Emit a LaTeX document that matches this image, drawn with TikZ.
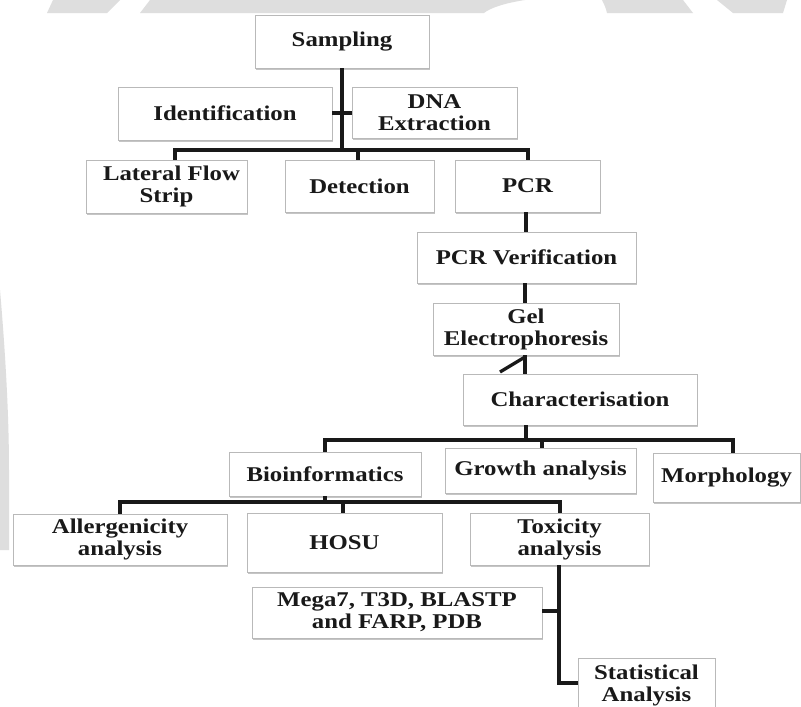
\documentclass[tikz,border=0pt]{standalone}
\usepackage{fontspec}
\setmainfont{Liberation Serif}[FakeStretch=1.18]
\usetikzlibrary{shadows}
\tikzset{
  box/.style={draw=gray!55, line width=0.8pt, fill=white, inner sep=0pt,
    align=center, text=black!90, font=\fontsize{21}{22}\selectfont\bfseries,
    drop shadow={shadow xshift=0.8pt, shadow yshift=-1.6pt, opacity=0.45, fill=gray}},
  link/.style={line width=3.3pt, black!90},
  wm/.style={fill=gray!26, draw=none}
}
\newcommand{\bx}[5]{\node[box, minimum width=#3pt, minimum height=#4pt] (#1) at (#2) {#5};}
\begin{document}
\begin{tikzpicture}[x=1pt,y=-1pt]
\useasboundingbox (0,0) rectangle (801,707);
\fill[white] (0,0) rectangle (801,707);
% watermark band
\fill[wm] (53,0) -- (120,0) -- (107,13) -- (47,13) -- cycle;
\fill[wm] (150,0) -- (525,0) .. controls (505,3) and (490,8) .. (484,13) -- (140,13) -- cycle;
\fill[wm] (602,0) -- (683,0) -- (693,13) -- (607,13) .. controls (606,8) and (604,4) .. cycle;
\fill[wm] (717,0) -- (787,0) -- (783,13) -- (733,13) -- cycle;
\fill[wm] (0,290) .. controls (6,360) and (9,420) .. (9,470) -- (9,550) -- (0,550) -- cycle;
% boxes
\bx{samp}{342,41.5}{174}{53}{Sampling}
\bx{ident}{225,113.5}{214}{53}{Identification}
\bx{dna}{434.5,112.5}{165}{51}{DNA\\Extraction}
\bx{lfs}{166.5,186.5}{161}{53}{\hspace*{10pt}Lateral Flow\\Strip}
\bx{det}{359.5,186}{149}{52}{Detection}
\bx{pcr}{527.5,186}{145}{52}{PCR}
\bx{pcrv}{526.5,257.5}{219}{51}{PCR Verification}
\bx{gel}{526,329}{186}{52}{Gel\\Electrophoresis}
\bx{char}{580,399.5}{234}{51}{Characterisation}
\bx{bio}{325,474}{192}{44}{Bioinformatics}
\bx{grow}{540.5,470.5}{191}{45}{Growth analysis}
\bx{morph}{726.5,477.5}{147}{49}{Morphology}
\bx{allerg}{120,539.5}{214}{51}{Allergenicity\\analysis}
\bx{hosu}{344.5,542.5}{195}{59}{HOSU}
\bx{tox}{559.5,539}{179}{52}{Toxicity\\analysis}
\bx{mega}{397,612.5}{290}{51}{Mega7, T3D, BLASTP\\and FARP, PDB}
\bx{stat}{646.5,685}{137}{54}{Statistical\\Analysis}
% junctions
\coordinate (j1) at (342,150);
\coordinate (tl) at (332,113);
\coordinate (tr) at (352,113);
\coordinate (j1l) at (175,150);
\coordinate (j1m) at (358,150);
\coordinate (j1r) at (528,150);
\coordinate (g1) at (500,372);
\coordinate (g2) at (525,357);
\coordinate (j2) at (526,440);
\coordinate (j2l) at (325,440);
\coordinate (j2m) at (542,440);
\coordinate (j2r) at (733,440);
\coordinate (j3) at (325,502);
\coordinate (j3l) at (120,502);
\coordinate (j3m) at (343,502);
\coordinate (j3r) at (560,502);
\coordinate (j4) at (559,683);
\coordinate (j5) at (559,611);
% connectors
\draw[link] (samp.south) -- (j1);
\draw[link] (tl) -- (tr);
\draw[link] (lfs.north -| j1l) -- (j1l) -- (j1r) -- (pcr.north -| j1r);
\draw[link] (j1m) -- (det.north -| j1m);
\draw[link] (pcr.south -| 526,0) -- (pcrv.north -| 526,0);
\draw[link] (pcrv.south -| 525,0) -- (gel.north -| 525,0);
\draw[link] (gel.south -| 525,0) -- (char.north -| 525,0);
\draw[link] (g1) -- (g2);
\draw[link] (char.south -| j2) -- (j2);
\draw[link] (bio.north -| j2l) -- (j2l) -- (j2r) -- (morph.north -| j2r);
\draw[link] (j2m) -- (grow.north -| j2m);
\draw[link] (bio.south -| j3) -- (j3);
\draw[link] (allerg.north -| j3l) -- (j3l) -- (j3r) -- (tox.north -| j3r);
\draw[link] (j3m) -- (hosu.north -| j3m);
\draw[link] (tox.south -| j4) -- (j4) -- (stat.west |- j4);
\draw[link] (mega.east |- j5) -- (j5);
\end{tikzpicture}
\end{document}
